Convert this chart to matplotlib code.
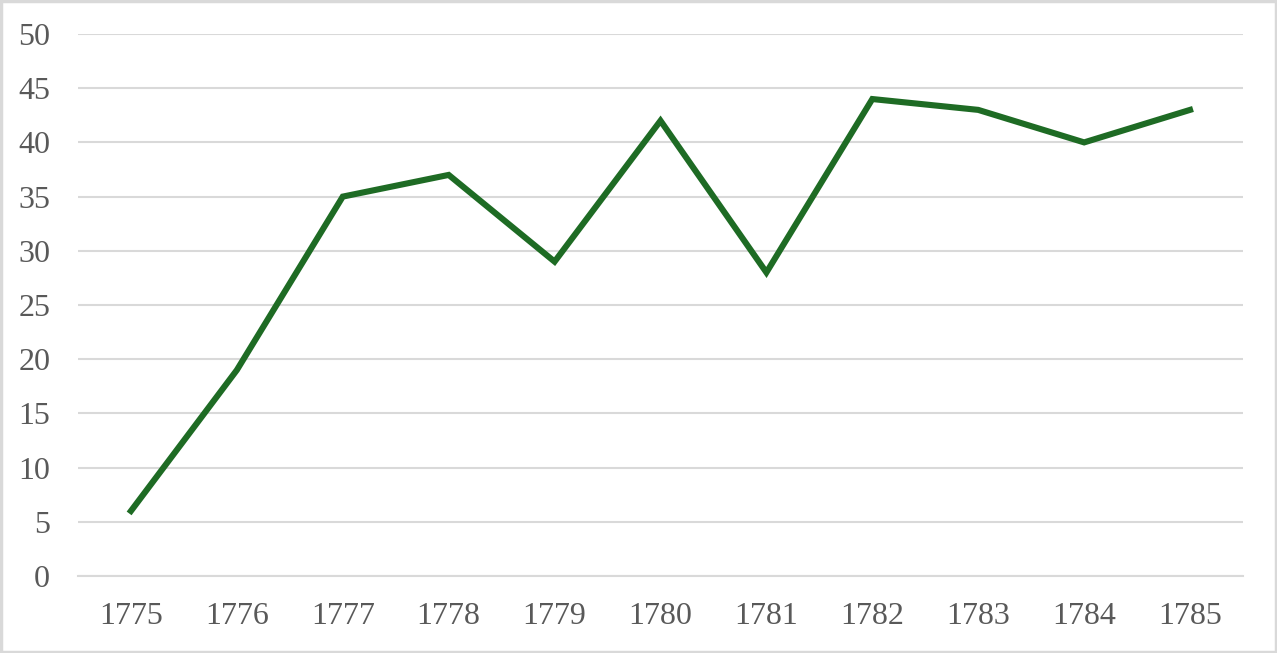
import matplotlib.pyplot as plt
from matplotlib.patches import Rectangle

years = ["1775", "1776", "1777", "1778", "1779", "1780", "1781", "1782", "1783", "1784", "1785"]
values = [6, 19, 35, 37, 29, 42, 28, 44, 43, 40, 43]
y_ticks = [0, 5, 10, 15, 20, 25, 30, 35, 40, 45, 50]

LINE_COLOR = "#1E6B24"
GRID_COLOR = "#D9D9D9"
TEXT_COLOR = "#595959"

plt.rcParams["font.family"] = ["Liberation Serif", "DejaVu Serif"]

fig = plt.figure(figsize=(12.77, 6.53), dpi=100)
ax = fig.add_axes([78 / 1277, 1 - 576 / 653, (1243 - 78) / 1277, (576 - 34) / 653])

x = list(range(len(years)))
ax.plot(x, values, color=LINE_COLOR, linewidth=4.4, solid_joinstyle="miter", zorder=3)

ax.set_xlim(-0.5, len(years) - 0.5)
ax.set_ylim(0, 50)
ax.set_xticks(x)
ax.set_xticklabels(years)
ax.set_yticks(y_ticks)

ax.grid(axis="y", color=GRID_COLOR, linewidth=1.5)
ax.set_axisbelow(True)
for side in ["top", "right", "left"]:
    ax.spines[side].set_visible(False)
ax.spines["bottom"].set_color(GRID_COLOR)
ax.spines["bottom"].set_linewidth(1.5)
ax.tick_params(axis="both", length=0, labelsize=23, labelcolor=TEXT_COLOR)
ax.tick_params(axis="x", pad=19)
ax.tick_params(axis="y", pad=20)

fig.patches.append(Rectangle((0.001, 0.002), 0.998, 0.996, transform=fig.transFigure,
                             fill=False, edgecolor=GRID_COLOR, linewidth=2.5))

fig.savefig("out.png", dpi=100)
